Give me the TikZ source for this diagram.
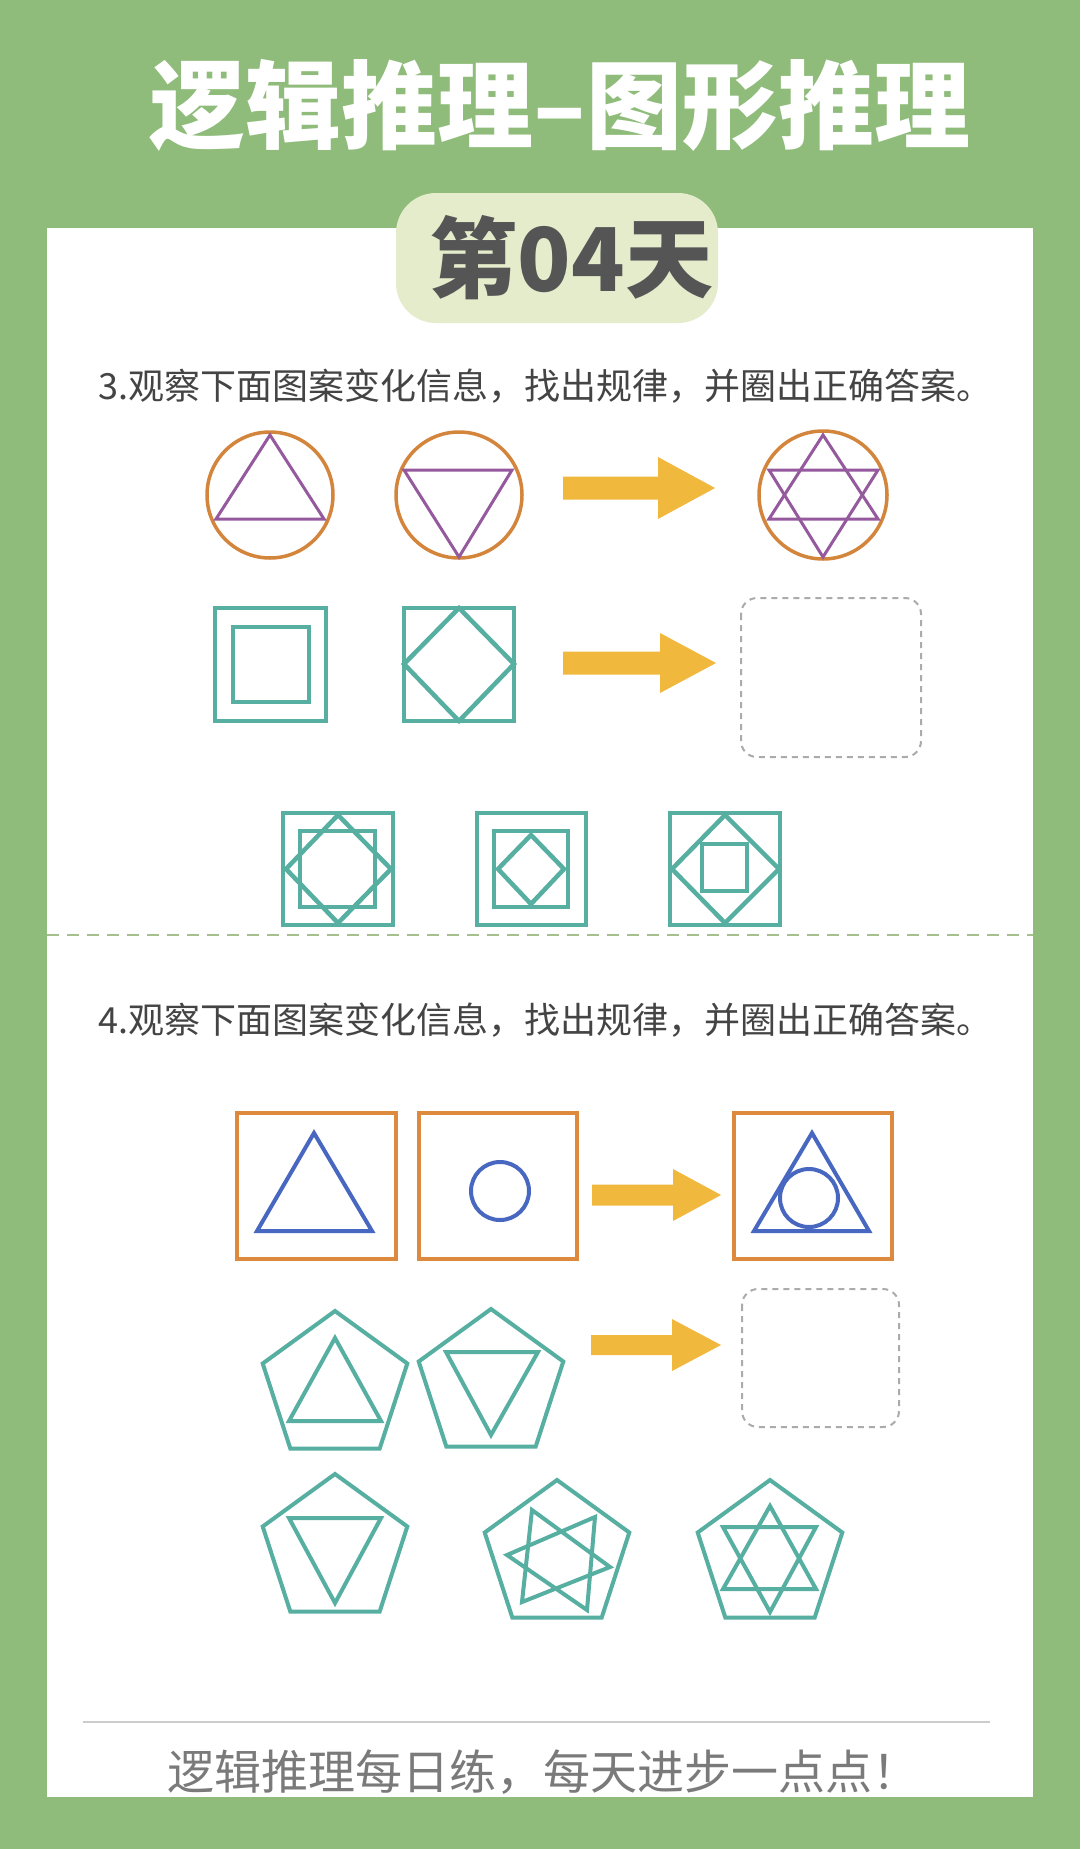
\documentclass[tikz,border=0pt]{standalone}
\usepackage{fontspec}
\newfontfamily\cjk{Noto Sans CJK SC}
\usepackage{tikz}
\usetikzlibrary{positioning}
\definecolor{LeafGreen}{HTML}{8FBC7A}
\definecolor{PaleLeaf}{HTML}{E4ECCB}
\definecolor{SlateText}{HTML}{444444}
\definecolor{BadgeGray}{HTML}{555555}
\definecolor{FootGray}{HTML}{7A7A7A}
\definecolor{RimOrange}{HTML}{D4853C}
\definecolor{BoxOrange}{HTML}{DE8A3E}
\definecolor{PlumPurple}{HTML}{95599E}
\definecolor{SeaTeal}{HTML}{57AFA2}
\definecolor{RoyalBlue}{HTML}{4767C0}
\definecolor{SunGold}{HTML}{F0B83D}
\definecolor{AshGray}{HTML}{ABABAB}
\definecolor{SageDash}{HTML}{A6BF8F}
\definecolor{RuleGray}{HTML}{CCCCCC}
\tikzset{
  % Heading on the green band
  headline/.style={inner sep=0pt, text=white,
    font=\cjk\bfseries\fontsize{96}{100}\selectfont},
  % Day badge, text pushed to the right
  badge/.style={rectangle, rounded corners=40pt, fill=PaleLeaf,
    minimum width=322pt, minimum height=130pt, inner sep=0pt,
    text width=312pt, align=right,
    text=BadgeGray, font=\cjk\bfseries\fontsize{88}{92}\selectfont},
  % Question line
  qtext/.style={anchor=west, inner sep=0pt, text=SlateText,
    font=\cjk\fontsize{36}{40}\selectfont},
  % Footer line
  foot/.style={inner sep=0pt, text=FootGray,
    font=\cjk\fontsize{47}{50}\selectfont},
  % Outline styles of the figures
  rim/.style={draw=RimOrange, line width=3.5pt},
  plum/.style={draw=PlumPurple, line width=3pt, line join=miter},
  tealsq/.style={draw=SeaTeal, line width=4.5pt, line join=miter},
  penta/.style={draw=SeaTeal, line width=4pt, line join=miter},
  frame/.style={draw=BoxOrange, line width=4.5pt},
  blueline/.style={draw=RoyalBlue, line width=4pt, line join=miter},
  % Fat arrow
  goldarr/.style={fill=SunGold},
  % Empty answer box
  blank/.style={draw=AshGray, line width=2pt, dash pattern=on 6pt off 5pt,
    rounded corners=16pt},
  sepline/.style={draw=SageDash, line width=2.5pt, dash pattern=on 12pt off 8pt},
  rule/.style={draw=RuleGray, line width=2pt}
}
\begin{document}
\begin{tikzpicture}[x=1pt, y=-1pt]
  \useasboundingbox (0,0) rectangle (1080,1849);
  \fill[LeafGreen] (0,0) rectangle (1080,1849);
  \fill[white] (47,228) rectangle (1033,1797);

  \node[headline] (title) at (560,105) {逻辑推理–图形推理};
  \node[badge]    (day)   at (557,258) {第04天};
  \node[qtext]    (q3)    at (98,386)  {3.观察下面图案变化信息，找出规律，并圈出正确答案。};

  % question 3, first row
  \draw[rim] (270,495) circle[radius=63];
  \draw[plum] (270,435) -- (324,519) -- (216,519) -- cycle;
  \draw[rim] (459,495) circle[radius=63];
  \draw[plum] (404,470) -- (512,470) -- (459,557) -- cycle;
  \draw[rim] (823,495) circle[radius=64];
  \draw[plum] (823,435) -- (878,519) -- (769,519) -- cycle;
  \draw[plum] (769,470) -- (878,470) -- (823,557) -- cycle;

  % question 3, second row
  \draw[tealsq] (215,608) rectangle (326,721);
  \draw[tealsq] (233,627) rectangle (309,702);
  \draw[tealsq] (404,608) rectangle (514,721);
  \draw[tealsq] (459,608) -- (514,664) -- (459,721) -- (404,664) -- cycle;
  \draw[blank] (741,598) rectangle (921,757);

  % question 3, choices
  \draw[tealsq] (283,813) rectangle (393,925);
  \draw[tealsq] (300,831) rectangle (375,907);
  \draw[tealsq] (338,815) -- (391,869) -- (338,923) -- (286,869) -- cycle;
  \draw[tealsq] (477,813) rectangle (586,925);
  \draw[tealsq] (494,831) rectangle (568,907);
  \draw[tealsq] (531,835) -- (564,869) -- (531,904) -- (498,869) -- cycle;
  \draw[tealsq] (670,813) rectangle (780,925);
  \draw[tealsq] (725,815) -- (779,869) -- (725,923) -- (672,869) -- cycle;
  \draw[tealsq] (702,844) rectangle (747,891);

  \draw[sepline] (47,935) -- (1033,935);

  \node[qtext] (q4) at (98,1020) {4.观察下面图案变化信息，找出规律，并圈出正确答案。};

  % question 4, first row
  \draw[frame] (237,1113) rectangle (396,1259);
  \draw[blueline] (314,1133) -- (372,1231) -- (257,1231) -- cycle;
  \draw[frame] (419,1113) rectangle (577,1259);
  \draw[blueline] (500,1191) circle[radius=29];
  \draw[frame] (734,1113) rectangle (892,1259);
  \draw[blueline] (812,1133) -- (869,1231) -- (754,1231) -- cycle;
  \draw[blueline] (809,1198) circle[radius=29];

  % question 4, pentagons
  \foreach \cx/\cy in {335/1387, 491/1385, 335/1550, 557/1556, 770/1556}
    \draw[penta] (\cx,\cy-76) -- (\cx+72.3,\cy-23.5) -- (\cx+44.7,\cy+61.5)
      -- (\cx-44.7,\cy+61.5) -- (\cx-72.3,\cy-23.5) -- cycle;
  \draw[penta] (335,1338) -- (381,1421) -- (289,1421) -- cycle;
  \draw[penta] (446,1352) -- (538,1352) -- (491,1435) -- cycle;
  \draw[blank] (742,1289) rectangle (899,1427);
  \draw[penta] (289,1518) -- (381,1518) -- (335,1603) -- cycle;
  \draw[penta] (532,1510) -- (610,1567) -- (522,1602) -- cycle;
  \draw[penta] (595,1517) -- (507,1555) -- (587,1610) -- cycle;
  \draw[penta] (770,1506) -- (816,1589) -- (723,1589) -- cycle;
  \draw[penta] (723,1527) -- (816,1527) -- (770,1612) -- cycle;

  % fat arrows
  \foreach \xa/\xb/\xt/\yc/\sh/\hh in
    {563/658/715/488/11.5/31, 563/660/716/663/11.5/30,
     592/673/721/1195/10.5/26, 591/672/721/1345/10/26}
    \fill[goldarr] (\xa,\yc-\sh) -- (\xb,\yc-\sh) -- (\xb,\yc-\hh) -- (\xt,\yc)
      -- (\xb,\yc+\hh) -- (\xb,\yc+\sh) -- (\xa,\yc+\sh) -- cycle;

  \draw[rule] (83,1722) -- (990,1722);
  \node[foot] (motto) at (543,1772) {逻辑推理每日练，每天进步一点点！};
\end{tikzpicture}
\end{document}
